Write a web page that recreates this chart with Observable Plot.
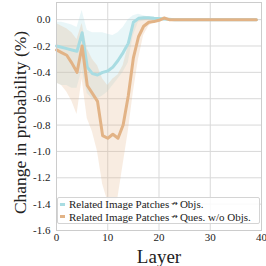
<!DOCTYPE html>
<html>
<head>
<meta charset="utf-8">
<script src="https://cdn.jsdelivr.net/npm/d3@7"></script>
<script src="https://cdn.jsdelivr.net/npm/@observablehq/plot@0.6"></script>
<style>
  html, body { margin: 0; padding: 0; background: #fff; }
  #wrap { position: relative; width: 266px; height: 266px; }
  #wrap svg, #wrap svg text, #wrap svg g { font-family: "Liberation Serif", "DejaVu Serif", serif !important; }
  #legend {
    position: absolute; left: 57px; top: 197px; width: 203px; height: 27px;
    background: rgba(255,255,255,0.85); border: 1px solid #d4d4d4; border-radius: 2px;
    font-family: "Liberation Serif", "DejaVu Serif", serif; font-size: 11px; line-height: 12.5px;
    color: #222; box-sizing: border-box; padding: 0px 0 0 2px;
  }
  .row { display: flex; align-items: center; white-space: nowrap; }
  .sw { width: 5px; height: 3px; margin-right: 4px; }
  .arr { font-family: "DejaVu Sans", sans-serif; font-size: 8px; margin: 0 2px; }
</style>
</head>
<body>
<div id="wrap"></div>
<script>
const layers = d3.range(0, 40);
const seriesLeft = ["Related Image Patches", "Related Image Patches"];
const seriesArrow = "\u219B";
const seriesRight = ["Objs.", "Ques. w/o Objs."];
const seriesColors = ["#a8dce2", "#e2b386"];

const objMean = [-0.20,-0.21,-0.22,-0.23,-0.24,-0.10,-0.36,-0.41,-0.42,-0.40,-0.39,-0.36,-0.31,-0.25,-0.18,-0.02,0.01,0.015,0.015,0.01,0.008,0.004,0.002,0.0,0.0,0.0,0.0,0.0,0.0,0.0,0.0,0.0,0.0,0.0,0.0,0.0,0.0,0.0,0.0,0.0];
const objHigh = [-0.02,-0.02,-0.03,-0.04,-0.06,0.07,-0.08,-0.10,-0.10,-0.10,-0.11,-0.12,-0.10,-0.06,0.0,0.03,0.04,0.03,0.02,0.02,0.01,0.006,0.005,0.004,0.003,0.003,0.003,0.003,0.003,0.003,0.003,0.003,0.003,0.003,0.003,0.003,0.003,0.003,0.003,0.003];
const objLow = [-0.48,-0.50,-0.50,-0.52,-0.52,-0.38,-0.56,-0.60,-0.60,-0.58,-0.55,-0.50,-0.45,-0.40,-0.33,-0.12,-0.02,-0.01,0.0,0.0,0.0,0.0,0.0,-0.003,-0.003,-0.003,-0.003,-0.003,-0.003,-0.003,-0.003,-0.003,-0.003,-0.003,-0.003,-0.003,-0.003,-0.003,-0.003,-0.003];

const quesMean = [-0.23,-0.25,-0.27,-0.33,-0.40,-0.20,-0.50,-0.56,-0.62,-0.88,-0.90,-0.87,-0.90,-0.80,-0.58,-0.29,-0.13,-0.05,-0.02,-0.015,-0.005,0.012,0.0,0.0,0.0,0.0,0.0,0.0,0.0,0.0,0.0,0.0,0.0,0.0,0.0,0.0,0.0,0.0,0.0,0.0];
const quesHigh = [-0.03,-0.05,-0.07,-0.10,-0.15,-0.03,-0.22,-0.30,-0.35,-0.45,-0.50,-0.45,-0.42,-0.35,-0.20,-0.05,0.0,0.02,0.02,0.01,0.01,0.02,0.005,0.005,0.005,0.005,0.005,0.005,0.005,0.005,0.005,0.005,0.005,0.005,0.005,0.005,0.005,0.005,0.005,0.005];
const quesLow = [-0.48,-0.50,-0.55,-0.62,-0.72,-0.45,-0.75,-0.85,-1.00,-1.25,-1.38,-1.42,-1.35,-1.10,-0.85,-0.55,-0.30,-0.12,-0.05,-0.02,-0.01,0.0,-0.005,-0.005,-0.005,-0.005,-0.005,-0.005,-0.005,-0.005,-0.005,-0.005,-0.005,-0.005,-0.005,-0.005,-0.005,-0.005,-0.005,-0.005];

const xTicks = [0, 10, 20, 30, 40];
const yTicks = [0.0, -0.2, -0.4, -0.6, -0.8, -1.0, -1.2, -1.4, -1.6];
const xLabel = "Layer";
const yLabel = "Change in probability (%)";

const obj = layers.map((l, i) => ({layer: l, mean: objMean[i], lo: objLow[i], hi: objHigh[i]}));
const ques = layers.map((l, i) => ({layer: l, mean: quesMean[i], lo: quesLow[i], hi: quesHigh[i]}));

const serif = "Liberation Serif, DejaVu Serif, serif";

const chart = Plot.plot({
  width: 266,
  height: 266,
  marginLeft: 56,
  marginRight: 5,
  marginTop: 2,
  marginBottom: 36,
  style: {fontFamily: serif, fontSize: "11px", color: "#222", background: "#fff", overflow: "visible"},
  x: {domain: [0, 40], label: null},
  y: {domain: [-1.6, 0.13], label: null},
  marks: [
    Plot.gridX(xTicks, {stroke: "#d9d9d9", strokeOpacity: 1, strokeWidth: 1}),
    Plot.gridY(yTicks, {stroke: "#d9d9d9", strokeOpacity: 1, strokeWidth: 1}),
    Plot.areaY(obj, {x: "layer", y1: "lo", y2: "hi", fill: seriesColors[0], fillOpacity: 0.25}),
    Plot.areaY(ques, {x: "layer", y1: "lo", y2: "hi", fill: seriesColors[1], fillOpacity: 0.25}),
    Plot.lineY(obj, {x: "layer", y: "mean", stroke: seriesColors[0], strokeWidth: 3}),
    Plot.lineY(ques, {x: "layer", y: "mean", stroke: seriesColors[1], strokeWidth: 3}),
    Plot.frame({stroke: "#cccccc", strokeWidth: 1}),
    Plot.axisX({ticks: xTicks, tickSize: 0, tickPadding: 3, tickFormat: d => String(d), fontSize: 11, fontFamily: serif, label: null}),
    Plot.axisY({ticks: yTicks, tickSize: 0, tickPadding: 6, tickFormat: d => d.toFixed(1), fontSize: 11, fontFamily: serif, label: null}),
    Plot.text([xLabel], {frameAnchor: "bottom", lineAnchor: "middle", dy: 26, fontSize: 19, fontFamily: serif, fill: "#222"}),
    Plot.text([yLabel], {frameAnchor: "left", textAnchor: "middle", lineAnchor: "middle", dx: -36, dy: 6, rotate: -90, fontSize: 17.5, fontFamily: serif, fill: "#222"})
  ]
});

const wrap = document.getElementById("wrap");
wrap.appendChild(chart);

const legend = document.createElement("div");
legend.id = "legend";
seriesLeft.forEach((left, i) => {
  const row = document.createElement("div");
  row.className = "row";
  const sw = document.createElement("span");
  sw.className = "sw";
  sw.style.background = seriesColors[i];
  const t1 = document.createElement("span");
  t1.textContent = left;
  const a = document.createElement("span");
  a.className = "arr";
  a.textContent = seriesArrow;
  const t2 = document.createElement("span");
  t2.textContent = seriesRight[i];
  row.append(sw, t1, a, t2);
  legend.appendChild(row);
});
wrap.appendChild(legend);
</script>
</body>
</html>
